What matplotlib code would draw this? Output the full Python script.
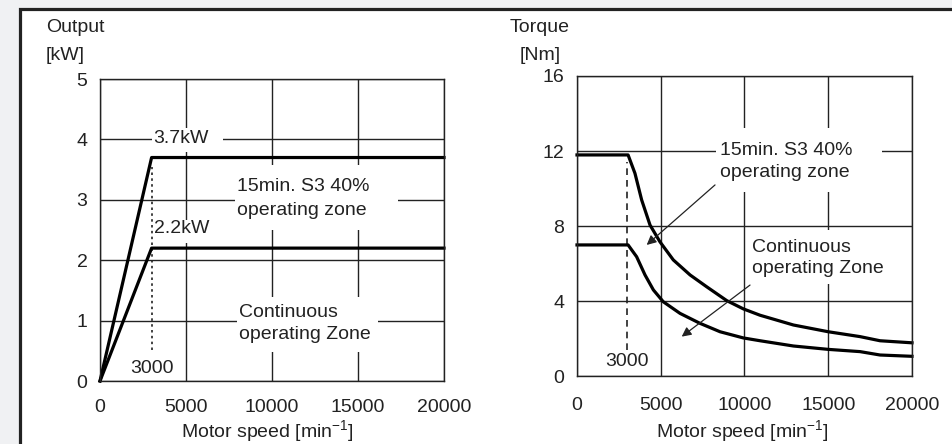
import matplotlib.pyplot as plt
from matplotlib.patches import Rectangle

plt.rcParams['font.family'] = ['Liberation Sans', 'DejaVu Sans']

## data
# output vs speed (left)
out_speed = [0, 3000, 20000]
out_s3 = [0, 3.7, 3.7]          # 15min. S3 40%
out_cont = [0, 2.2, 2.2]        # continuous

# torque vs speed (right)
s3_speed = [0, 3050, 3460, 3860, 4360, 4950, 5750, 6750, 7740, 8940,
            9930, 10930, 12920, 15000, 16900, 18090, 20000]
trq_s3 = [11.79, 11.79, 10.81, 9.39, 8.05, 7.16, 6.19, 5.39, 4.76, 4.02,
          3.58, 3.24, 2.72, 2.36, 2.10, 1.88, 1.77]
cont_speed = [0, 3050, 3560, 4060, 4560, 5150, 6150, 7340, 8540, 9930,
              10930, 12920, 15000, 16900, 18090, 20000]
trq_cont = [6.99, 6.99, 6.36, 5.39, 4.59, 3.96, 3.34, 2.81, 2.36, 2.03,
            1.88, 1.60, 1.42, 1.30, 1.12, 1.05]

x_ticks = [0, 5000, 10000, 15000, 20000]
out_ticks = [0, 1, 2, 3, 4, 5]
trq_ticks = [0, 4, 8, 12, 16]

ink = '#222222'
W, H = 953, 444
fs = 14

fig = plt.figure(figsize=(W / 100, H / 100), dpi=100, facecolor='#f0f1f3')

# white panel with dark border
fig.patches.append(Rectangle((20.5 / W, -0.05), 1.0, 1 - 8.8 / H + 0.05,
                             transform=fig.transFigure, facecolor='white',
                             edgecolor=ink, linewidth=2.3, zorder=-10))

def setup(ax, yticks, ymax, xpad):
    ax.set_zorder(2)
    ax.set_xlim(0, 20000)
    ax.set_ylim(0, ymax)
    ax.set_xticks(x_ticks)
    ax.set_yticks(yticks)
    ax.set_axisbelow(True)
    ax.grid(True, color=ink, linewidth=1.0)
    ax.tick_params(length=0, labelsize=fs, colors=ink)
    ax.tick_params(axis='x', pad=xpad)
    ax.tick_params(axis='y', pad=9)
    for s in ax.spines.values():
        s.set_color(ink)
        s.set_linewidth(1.0)
        s.set_zorder(5)
    ax.set_facecolor('white')

def blank(ax, x0, x1, y0, y1):
    ax.add_patch(Rectangle((x0, y0), x1 - x0, y1 - y0, facecolor='white',
                           edgecolor='none', zorder=1))

## left: output
ax1 = fig.add_axes([100 / W, 1 - 381 / H, 344 / W, 302 / H])
setup(ax1, out_ticks, 5, 13)
ax1.plot(out_speed, out_s3, color='black', lw=2.3, zorder=3, clip_on=False)
ax1.plot(out_speed, out_cont, color='black', lw=2.3, zorder=3, clip_on=False)
ax1.plot([3000, 3000], [0.51, 3.55], color=ink, lw=1.2, ls=(0, (1.5, 2)), zorder=2)

blank(ax1, 7850, 17330, 2.50, 3.58)
blank(ax1, 7970, 16160, 0.48, 1.39)
blank(ax1, 3030, 7150, 3.79, 4.19)
blank(ax1, 3080, 6400, 2.28, 2.67)

kw = dict(fontsize=fs, color=ink, zorder=4)
ax1.text(3100, 4.02, '3.7kW', ha='left', va='center', **kw)
ax1.text(3120, 2.53, '2.2kW', ha='left', va='center', **kw)
ax1.text(3020, 0.21, '3000', ha='center', va='center', **kw)
ax1.text(7950, 3.02, '15min. S3 40%\noperating zone', ha='left', va='center',
         linespacing=1.5, **kw)
ax1.text(8080, 0.95, 'Continuous\noperating Zone', ha='left', va='center',
         linespacing=1.35, **kw)

## right: torque
ax2 = fig.add_axes([577 / W, 1 - 376 / H, 335 / W, 300 / H])
setup(ax2, trq_ticks, 16, 15)
ax2.plot(s3_speed, trq_s3, color='black', lw=2.3, zorder=3, clip_on=False)
ax2.plot(cont_speed, trq_cont, color='black', lw=2.3, zorder=3, clip_on=False)
ax2.plot([3000, 3000], [1.39, 11.4], color=ink, lw=1.2, ls=(0, (4, 3)), zorder=2)

blank(ax2, 8300, 18210, 9.81, 13.23)
blank(ax2, 10100, 18390, 4.91, 7.79)

ax2.text(2985, 0.75, '3000', ha='center', va='center', **kw)
ax2.text(8560, 11.45, '15min. S3 40%\noperating zone', ha='left', va='center',
         linespacing=1.4, **kw)
ax2.text(10450, 6.3, 'Continuous\noperating Zone', ha='left', va='center',
         linespacing=1.35, **kw)

arw = dict(arrowstyle='-|>', color=ink, lw=0.9, mutation_scale=14,
           shrinkA=0, shrinkB=0)
ax2.annotate('', xy=(4160, 6.99), xytext=(8240, 10.19), arrowprops=arw, zorder=4)
ax2.annotate('', xy=(6250, 2.10), xytext=(10330, 4.85), arrowprops=arw, zorder=4)

## axis captions
cap = dict(fontsize=fs, color=ink)
fig.text(46 / W, 1 - 27 / H, 'Output', ha='left', va='center', **cap)
fig.text(46 / W, 1 - 56 / H, '[kW]', ha='left', va='center', **cap)
fig.text(510 / W, 1 - 27 / H, 'Torque', ha='left', va='center', **cap)
fig.text(520 / W, 1 - 56 / H, '[Nm]', ha='left', va='center', **cap)
fig.text(267 / W, 1 - 432 / H, r'Motor speed [min$^{\mathregular{-1}}$]',
         ha='center', va='center', **cap)
fig.text(742 / W, 1 - 432 / H, r'Motor speed [min$^{\mathregular{-1}}$]',
         ha='center', va='center', **cap)

fig.savefig('out.png', dpi=100, facecolor=fig.get_facecolor())
